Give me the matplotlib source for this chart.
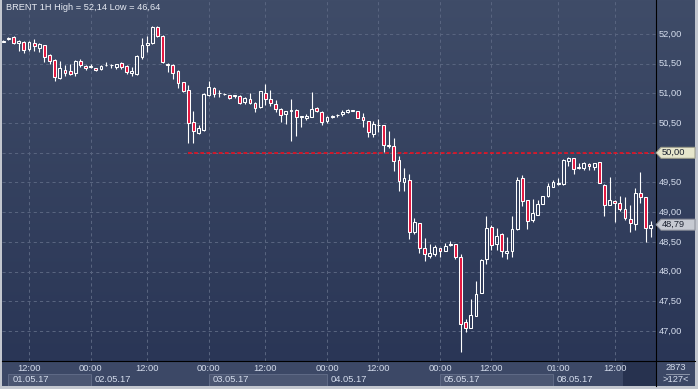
import numpy as np
import matplotlib
matplotlib.use('Agg')
import matplotlib.pyplot as plt
from matplotlib.colors import LinearSegmentedColormap
from matplotlib.patches import Rectangle, Polygon
from matplotlib.lines import Line2D
from matplotlib.transforms import blended_transform_factory

plt.rcParams['font.family'] = ['Liberation Sans', 'DejaVu Sans']

# BRENT hourly candles
opens = [51.87, 51.91, 51.95, 51.84, 51.87, 51.75, 51.84, 51.77, 51.81, 51.64,
         51.57, 51.26, 51.40, 51.37, 51.34, 51.55, 51.46, 51.44, 51.42, 51.41,
         51.47, 51.48, 51.45, 51.51, 51.46, 51.35, 51.32, 51.62, 51.81, 51.84,
         52.12, 51.97, 51.50, 51.47, 51.38, 51.19, 51.05, 50.51, 50.34, 50.38,
         50.97, 51.09, 51.00, 50.99, 50.97, 50.96, 50.96, 50.86, 50.90, 50.83,
         50.77, 51.00, 50.91, 50.82, 50.73, 50.66, 50.70, 50.72, 50.61, 50.59,
         50.60, 50.75, 50.69, 50.54, 50.61, 50.63, 50.65, 50.68, 50.71, 50.70,
         50.60, 50.53, 50.32, 50.47, 50.46, 50.12, 50.11, 49.88, 49.51, 49.55,
         48.67, 48.81, 48.39, 48.27, 48.30, 48.39, 48.35, 48.44, 48.46, 48.24,
         47.15, 47.05, 47.26, 47.64, 48.21, 48.75, 48.46, 48.63, 48.32, 48.34,
         48.71, 49.57, 49.20, 48.87, 48.96, 49.14, 49.27, 49.43, 49.47, 49.47,
         49.87, 49.91, 49.75, 49.74, 49.81, 49.76, 49.84, 49.46, 49.12, 49.19,
         49.16, 49.05, 48.89, 48.80, 49.33, 49.25, 48.73]
highs = [51.90, 51.95, 51.96, 51.90, 51.88, 51.88, 51.92, 51.84, 51.82, 51.66,
         51.58, 51.54, 51.47, 51.49, 51.56, 51.58, 51.47, 51.49, 51.43, 51.48,
         51.52, 51.49, 51.50, 51.52, 51.47, 51.44, 51.65, 51.93, 51.97, 52.14,
         52.14, 51.98, 51.51, 51.50, 51.40, 51.20, 51.14, 50.70, 50.46, 51.00,
         51.21, 51.10, 51.05, 51.01, 50.98, 50.98, 50.98, 50.94, 51.00, 50.85,
         51.04, 51.15, 51.05, 50.89, 50.75, 50.71, 50.91, 50.73, 50.62, 50.66,
         51.02, 50.77, 50.70, 50.62, 50.64, 50.66, 50.72, 50.73, 50.72, 50.71,
         50.67, 50.54, 50.54, 50.57, 50.47, 50.36, 50.25, 49.95, 49.74, 49.65,
         48.90, 48.82, 48.56, 48.46, 48.45, 48.40, 48.48, 48.51, 48.47, 48.29,
         47.21, 47.54, 47.84, 48.22, 48.94, 48.78, 48.73, 48.65, 48.59, 48.94,
         49.60, 49.63, 49.21, 49.22, 49.21, 49.28, 49.49, 49.54, 49.57, 49.90,
         49.93, 49.92, 49.83, 49.85, 49.82, 49.83, 49.85, 49.47, 49.60, 49.20,
         49.28, 49.26, 49.12, 49.40, 49.67, 49.26, 48.85]
lows = [51.86, 51.90, 51.83, 51.71, 51.68, 51.71, 51.71, 51.69, 51.53, 51.49,
        51.21, 51.25, 51.29, 51.31, 51.29, 51.44, 51.40, 51.43, 51.38, 51.40,
        51.46, 51.42, 51.41, 51.41, 51.33, 51.29, 51.31, 51.58, 51.70, 51.83,
        51.95, 51.51, 51.36, 51.24, 51.09, 51.02, 50.16, 50.17, 50.31, 50.37,
        50.96, 50.94, 50.94, 50.97, 50.90, 50.93, 50.82, 50.82, 50.82, 50.68,
        50.76, 50.80, 50.78, 50.68, 50.51, 50.48, 50.20, 50.29, 50.44, 50.55,
        50.60, 50.69, 50.47, 50.50, 50.58, 50.60, 50.62, 50.67, 50.70, 50.58,
        50.44, 50.27, 50.27, 50.35, 50.02, 50.08, 49.70, 49.36, 49.35, 48.55,
        48.63, 48.32, 48.17, 48.23, 48.27, 48.25, 48.34, 48.43, 48.22, 46.64,
        46.99, 47.05, 47.26, 47.64, 48.13, 48.36, 48.36, 48.25, 48.22, 48.25,
        48.70, 49.11, 48.72, 48.83, 48.95, 49.13, 49.26, 49.42, 49.46, 49.46,
        49.78, 49.65, 49.72, 49.71, 49.71, 49.71, 49.49, 48.94, 49.12, 48.84,
        49.02, 48.87, 48.66, 48.70, 49.15, 48.49, 48.59]
closes = [51.89, 51.94, 51.85, 51.88, 51.73, 51.87, 51.79, 51.83, 51.62, 51.55,
          51.28, 51.42, 51.34, 51.32, 51.54, 51.47, 51.42, 51.46, 51.39, 51.46,
          51.47, 51.48, 51.49, 51.45, 51.36, 51.37, 51.63, 51.81, 51.84, 52.12,
          51.96, 51.52, 51.47, 51.35, 51.17, 51.04, 50.50, 50.37, 50.41, 50.99,
          51.11, 50.99, 51.00, 50.99, 50.93, 50.96, 50.84, 50.92, 50.83, 50.76,
          51.04, 50.91, 50.83, 50.73, 50.64, 50.70, 50.72, 50.60, 50.61, 50.62,
          50.73, 50.71, 50.52, 50.60, 50.61, 50.63, 50.68, 50.72, 50.71, 50.59,
          50.55, 50.35, 50.48, 50.47, 50.13, 50.12, 49.87, 49.53, 49.58, 48.67,
          48.83, 48.39, 48.29, 48.31, 48.41, 48.34, 48.43, 48.46, 48.25, 47.12,
          47.05, 47.27, 47.63, 48.19, 48.73, 48.45, 48.60, 48.34, 48.35, 48.71,
          49.55, 49.19, 48.86, 48.98, 49.13, 49.27, 49.44, 49.51, 49.49, 49.88,
          49.91, 49.72, 49.75, 49.82, 49.77, 49.82, 49.49, 49.12, 49.21, 49.15,
          49.05, 48.90, 48.81, 49.33, 49.25, 48.73, 48.79]

time_ticks = [6, 18, 29, 41, 52, 64, 74, 86, 96, 109, 120]
time_labels = ['12:00', '00:00', '12:00', '00:00', '12:00', '00:00',
               '12:00', '00:00', '12:00', '01:00', '12:00']
day_starts = [2, 18, 41, 64, 86, 108]
day_labels = ['01.05.17', '02.05.17', '03.05.17', '04.05.17', '05.05.17', '08.05.17']
price_levels = [47.0, 47.5, 48.0, 48.5, 49.0, 49.5, 50.0, 50.5, 51.0, 51.5, 52.0]
level_price = 50.0
level_start = 37
bar_total = '2873'
bar_visible = '>127<'


def fmt(v):
    return f'{v:.2f}'.replace('.', ',')


W, H = 698, 389
fig = plt.figure(figsize=(W / 100, H / 100), dpi=100)
fig.patch.set_facecolor('#c3c7cf')


def rect(x0, y0, x1, y1):
    return [x0 / W, 1 - y1 / H, (x1 - x0) / W, (y1 - y0) / H]


# gradient background for chart + price panel
bg = fig.add_axes(rect(2, 0, 695, 361))
bg.set_axis_off()
cmap = LinearSegmentedColormap.from_list('bg', ['#3f4c68', '#2a3656'])
bg.imshow(np.linspace(0, 1, 256).reshape(-1, 1), aspect='auto', cmap=cmap,
          extent=[0, 1, 0, 1], origin='upper')

ax = fig.add_axes(rect(2, 0, 656, 361))
ax.set_axis_off()
xmin, xmax = 0.747, 128.03
ax.set_xlim(xmin, xmax)
ax.set_ylim(46.495, 52.572)

# grid
for p in price_levels:
    ax.axhline(p, color='#58647f', lw=0.75, ls=(0, (3, 3)), zorder=1)
for t in time_ticks:
    ax.axvline(t, color='#58647f', lw=0.75, ls=(0, (3, 3)), zorder=1)

ax.hlines(level_price, level_start, xmax, colors='#ec1020', lw=1.2,
          linestyles=(0, (2.2, 1.5)), zorder=2)

# candles
o = np.array(opens); h = np.array(highs); l = np.array(lows); c = np.array(closes)
idx = np.arange(1, len(o) + 1)
top = np.maximum(o, c)
bot = np.minimum(o, c)
ax.vlines(idx, top, h, color='white', lw=0.8, zorder=3)
ax.vlines(idx, l, bot, color='white', lw=0.8, zorder=3)
faces = ['none' if cc >= oo else '#e3163f' for oo, cc in zip(o, c)]
ax.bar(idx, np.maximum(top - bot, 0.006), bottom=bot, width=0.55,
       color=faces, edgecolor='white', linewidth=0.75, zorder=4)

ax.text(4 / 654, 1 - 8 / 361,
        f'BRENT 1H High = {fmt(h.max())} Low = {fmt(l.min())}',
        transform=ax.transAxes, ha='left', va='center', fontsize=6.7,
        color='#e6eaf2')

# price labels
tr = blended_transform_factory(fig.transFigure, ax.transData)
for p in price_levels:
    if p == level_price:
        continue
    ax.text(658.5 / W, p, fmt(p), transform=tr, ha='left', va='center',
            fontsize=6.7, color='#d4dcec', clip_on=False)


def tag(price, face, edge):
    yd = fig.transFigure.inverted().transform(ax.transData.transform((1, price)))[1]
    yc = (1 - yd) * H
    pts = [(656, yc), (661, yc - 5.5), (695, yc - 5.5), (695, yc + 5.5), (661, yc + 5.5)]
    fig.add_artist(Polygon([(x / W, 1 - y / H) for x, y in pts], closed=True,
                           transform=fig.transFigure, facecolor=face,
                           edgecolor=edge, lw=0.7, zorder=5))
    fig.text(662 / W, 1 - yc / H, fmt(price), ha='left', va='center',
             fontsize=6.7, color='#1c2230', zorder=6)


tag(level_price, '#e6e6cc', '#9a9a88')
tag(c[-1], '#c6cad2', '#8a8e98')

# time axis strip
xs = fig.add_axes(rect(2, 361, 656, 386))
xs.set_facecolor('#3c4866')
for s in xs.spines.values():
    s.set_visible(False)
xs.set_xticks([])
xs.set_yticks([])
xs.set_xlim(xmin, xmax)
xs.set_ylim(25, 0)
for t, lab in zip(time_ticks, time_labels):
    xs.text(t, 7.2, lab, ha='center', va='center', fontsize=6.7, color='#d4dcec')
ends = day_starts[1:] + [121.6]
for k, (s0, s1, lab) in enumerate(zip(day_starts, ends, day_labels)):
    if k % 2 == 0:
        xs.add_patch(Rectangle((s0, 12.5), s1 - s0, 13, facecolor='#4b5672',
                               edgecolor='#5f6a86', lw=0.7))
    xs.text(s0 + 0.75, 18.6, lab, ha='left', va='center', fontsize=6.7,
            color='#d4dcec')
xs.add_patch(Rectangle((121.6, 0), xmax - 121.6, 25, facecolor='#27324f', lw=0))

# bottom right counter box
fig.add_artist(Rectangle((656 / W, 1 - 386 / H), 39 / W, 25 / H,
                         transform=fig.transFigure, facecolor='#3c4866', lw=0))
fig.text(676 / W, 1 - 367 / H, bar_total, ha='center', va='center',
         fontsize=6.7, color='#d4dcec')
fig.text(676 / W, 1 - 380 / H, bar_visible, ha='center', va='center',
         fontsize=6.7, color='#d4dcec')
fig.add_artist(Line2D([666 / W, 689 / W], [1 - 373.5 / H] * 2, color='#9aa2b4',
                      lw=0.6, transform=fig.transFigure))

# separators
fig.add_artist(Line2D([656 / W] * 2, [1 - 386 / H, 1], color='black', lw=0.8,
                      transform=fig.transFigure))
fig.add_artist(Line2D([2 / W, 695 / W], [1 - 361 / H] * 2, color='black', lw=0.8,
                      transform=fig.transFigure))

fig.savefig('out.png', dpi=100, facecolor=fig.get_facecolor())
